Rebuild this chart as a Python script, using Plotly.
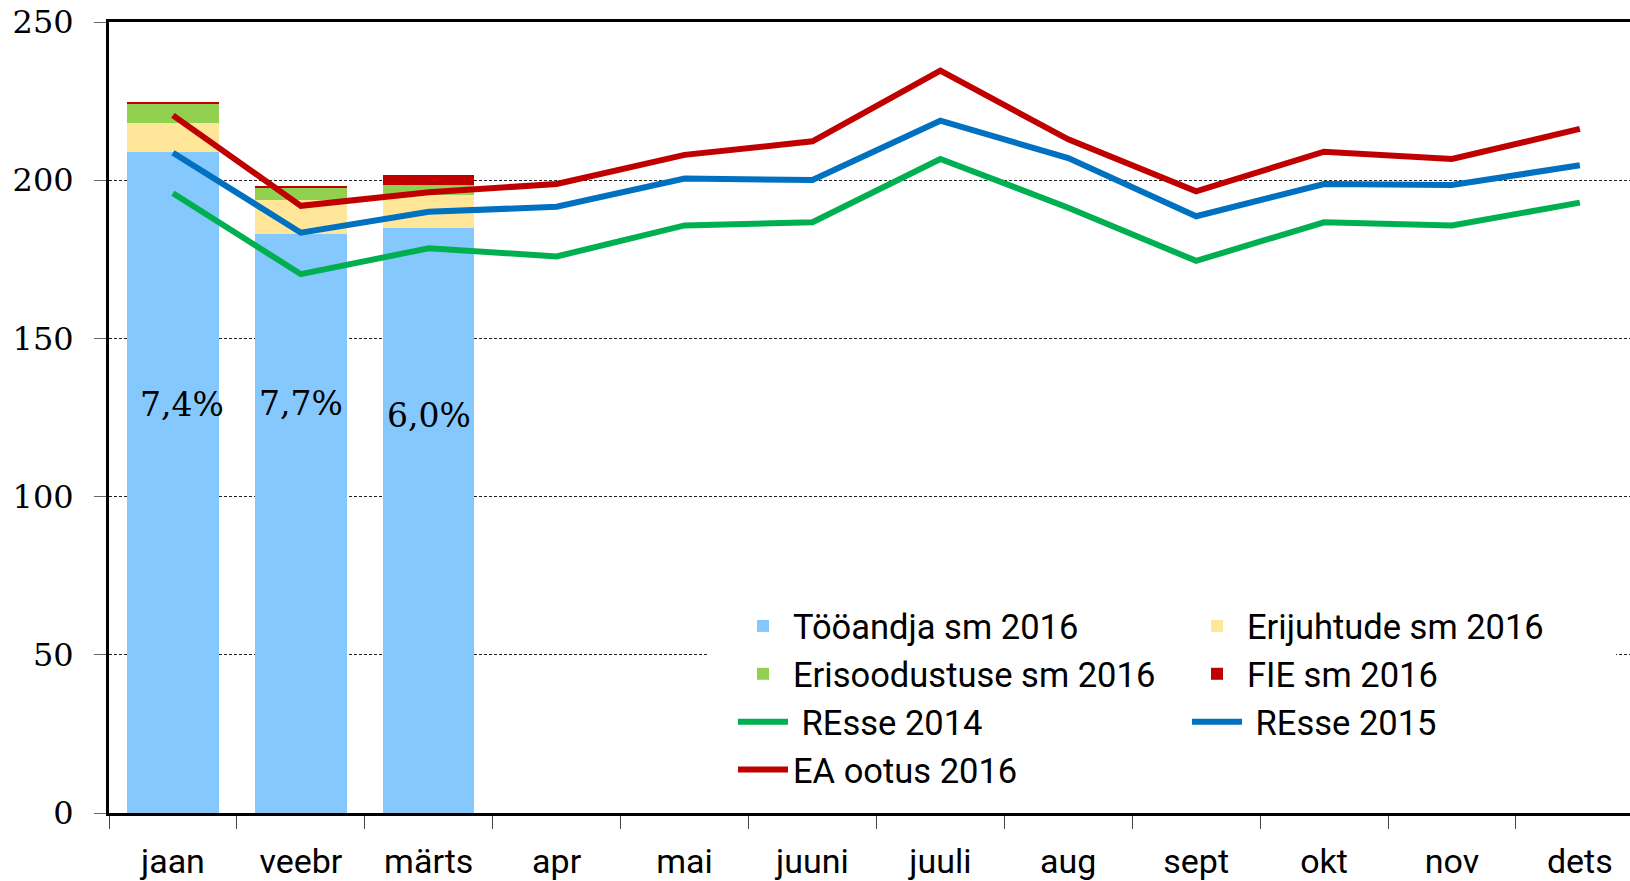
import plotly.graph_objects as go

months = ["jaan", "veebr", "märts", "apr", "mai", "juuni", "juuli", "aug", "sept", "okt", "nov", "dets"]
bar_months = ["jaan", "veebr", "märts"]

tooandja_2016 = [208.8, 182.9, 184.8]
erijuhtude_2016 = [9.3, 11.0, 10.4]
erisoodustuse_2016 = [6.2, 3.8, 3.3]
fie_2016 = [0.3, 0.2, 3.0]

resse_2014 = [195.9, 170.3, 178.5, 175.9, 185.7, 186.7, 206.7, 191.3, 174.5, 186.7, 185.7, 192.9]
resse_2015 = [208.7, 183.4, 190.0, 191.6, 200.5, 200.1, 218.8, 207.0, 188.6, 198.8, 198.5, 204.7]
ea_ootus_2016 = [220.5, 191.9, 196.2, 198.8, 208.0, 212.3, 234.6, 212.9, 196.5, 209.0, 206.7, 216.2]

bar_labels = ["7,4%", "7,7%", "6,0%"]
label_y = [129.0, 129.5, 125.5]
label_xshift = [9, 0, 0]

y_ticks = [0, 50, 100, 150, 200, 250]

W, H = 1630, 881
ML, MR, MT, MB = 109, 0, 22, 68
plot_w = W - ML - MR
cat_w = 127.9

sans = "Roboto"
serif = "DejaVu Serif"

fig = go.Figure()

bar_specs = [
    ("Tööandja sm 2016", tooandja_2016, "#85C8FE", "legend"),
    ("Erijuhtude sm 2016", erijuhtude_2016, "#FFE699", "legend2"),
    ("Erisoodustuse sm 2016", erisoodustuse_2016, "#92D050", "legend"),
    ("FIE sm 2016", fie_2016, "#C00000", "legend2"),
]
for name, vals, col, lg in bar_specs:
    fig.add_trace(go.Bar(x=bar_months, y=vals, name=name, marker=dict(color=col, line=dict(width=0)),
                         legend=lg))

line_specs = [
    ("\u00a0REsse 2014", resse_2014, "#00B050", "legend"),
    ("\u00a0REsse 2015", resse_2015, "#0070C0", "legend2"),
    ("EA ootus 2016", ea_ootus_2016, "#C00000", "legend"),
]
for name, vals, col, lg in line_specs:
    fig.add_trace(go.Scatter(x=months, y=vals, name=name, mode="lines",
                             line=dict(color=col, width=6), legend=lg))

for m, t, yv, xs in zip(bar_months, bar_labels, label_y, label_xshift):
    fig.add_annotation(x=m, y=yv, text=t, showarrow=False, xshift=xs,
                       font=dict(family=serif, size=33, color="black"))

# white backdrop behind the legend block (hides the gridline there)
fig.add_shape(type="rect", xref="paper", yref="y", x0=(707 - ML) / plot_w, x1=(1616 - ML) / plot_w,
              y0=4, y1=70, fillcolor="white", line=dict(width=0), layer="above")

legend_font = dict(family=sans, size=34.5, color="black")
leg_y = (813 - 597) / (813 - 22)
fig.update_layout(
    width=W, height=H,
    margin=dict(l=ML, r=MR, t=MT, b=MB, autoexpand=False),
    paper_bgcolor="white", plot_bgcolor="white",
    barmode="stack", bargap=0.285,
    showlegend=True,
    legend=dict(x=(733 - ML) / plot_w, y=leg_y, xanchor="left", yanchor="top",
                bgcolor="white", font=legend_font, itemwidth=50, traceorder="normal",
                tracegroupgap=0),
    legend2=dict(x=(1187 - ML) / plot_w, y=leg_y, xanchor="left", yanchor="top",
                 bgcolor="white", font=legend_font, itemwidth=50, traceorder="normal",
                 tracegroupgap=0),
    xaxis=dict(categoryorder="array", categoryarray=months,
               range=[-0.5, -0.5 + plot_w / cat_w], automargin=False,
               showline=True, linecolor="black", linewidth=3, mirror=True,
               ticks="outside", tickson="boundaries", ticklen=13, tickcolor="#444", tickwidth=1,
               showgrid=False, tickfont=dict(family=sans, size=34, color="black"),
               ticklabelstandoff=16),
    yaxis=dict(range=[0, 250], tickvals=y_ticks, automargin=False,
               showline=True, linecolor="black", linewidth=3,
               ticks="outside", ticklen=12, tickcolor="#666", tickwidth=1,
               showgrid=True, gridcolor="#222", gridwidth=1, griddash="3px,2px",
               zeroline=False, tickfont=dict(family=serif, size=32, color="black"),
               ticklabelstandoff=14, ticklabeloverflow="allow"),
)

fig.write_html("out.html", config={"displayModeBar": False},
               post_script="document.body.style.margin='0';document.body.style.overflow='hidden';")
